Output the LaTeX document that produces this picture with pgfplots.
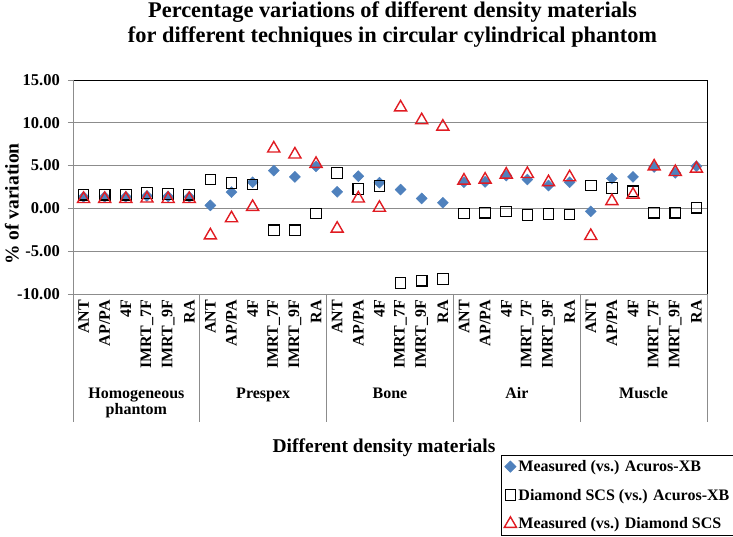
\documentclass[border=0pt]{standalone}
\usepackage{fontspec}
\setmainfont{Liberation Serif}
\usepackage{pgfplots}
\pgfplotsset{compat=1.18}
\definecolor{xbblue}{HTML}{4F81BD}
\definecolor{gridgray}{HTML}{8C8C8C}
\definecolor{trired}{HTML}{E01B22}
\begin{document}
\begin{tikzpicture}
\useasboundingbox (0pt,0pt) rectangle (733pt,537pt);
\node[font=\bfseries\fontsize{22.4}{25}\selectfont, anchor=base] at (392.5pt,519.7pt) {Percentage variations of different density materials};
\node[font=\bfseries\fontsize{22.4}{25}\selectfont, anchor=base] at (392.5pt,494.3pt) {for different techniques in circular cylindrical phantom};
\node[font=\bfseries\fontsize{19.5}{20}\selectfont, rotate=90, anchor=center] at (12pt,333pt) {\% of variation};
\node[font=\bfseries\fontsize{19.5}{20}\selectfont, anchor=base] at (384pt,84pt) {Different density materials};
\begin{axis}[
  at={(73pt,457pt)}, anchor=north west,
  width=634pt, height=214pt, scale only axis,
  xmin=-0.5, xmax=29.5, ymin=-10, ymax=15,
  clip=false,
  axis line style={draw=none},
  xtick={0,...,29},
  xticklabels={ANT,AP/PA,4F,IMRT\_7F,IMRT\_9F,RA,ANT,AP/PA,4F,IMRT\_7F,IMRT\_9F,RA,ANT,AP/PA,4F,IMRT\_7F,IMRT\_9F,RA,ANT,AP/PA,4F,IMRT\_7F,IMRT\_9F,RA,ANT,AP/PA,4F,IMRT\_7F,IMRT\_9F,RA},
  xtick style={draw=none},
  x tick label style={rotate=90, anchor=east, inner sep=1pt, font=\bfseries\fontsize{16}{16}\selectfont},
  ytick={-10,-5,0,5,10,15},
  yticklabels={{-10.00},{-5.00},{0.00},{5.00},{10.00},{15.00}},
  ytick pos=left,
  ytick style={gridgray, line width=0.9pt},
  tick align=outside,
  major tick length=5pt,
  y tick label style={font=\bfseries\fontsize{16.5}{17}\selectfont, inner sep=0pt, xshift=-8pt},
  ymajorgrids,
  grid style={gridgray, line width=0.9pt},
  legend style={at={(0.675,-0.752)}, anchor=north west, draw=black, line width=0.8pt,
    font=\bfseries\fontsize{16}{18}\selectfont, row sep=12pt, inner sep=3pt},
  legend cell align=left,
  legend image code/.code={\draw[#1] plot coordinates {(4pt,0pt)};},
]
\addplot[only marks, mark=square*, mark size=3.9pt, mark options={rotate=45, fill=xbblue, draw=xbblue}]
coordinates {
(0,1.35)(1,1.35)(2,1.35)(3,1.45)(4,1.40)(5,1.35)
(6,0.35)(7,1.9)(8,3.06)(9,4.42)(10,3.68)(11,4.92)
(12,1.94)(13,3.76)(14,3.0)(15,2.2)(16,1.16)(17,0.66)
(18,3.06)(19,3.1)(20,3.84)(21,3.37)(22,2.67)(23,3.06)
(24,-0.35)(25,3.49)(26,3.68)(27,4.84)(28,4.15)(29,4.92)
};
\addlegendentry{Measured (vs.) Acuros-XB}
\addplot[only marks, mark=square, mark size=5.3pt, mark options={draw=black, line width=1.1pt}]
coordinates {
(0,1.6)(1,1.6)(2,1.6)(3,1.8)(4,1.7)(5,1.6)
(6,3.37)(7,2.95)(8,2.8)(9,-2.56)(10,-2.56)(11,-0.58)
(12,4.15)(13,2.29)(14,2.6)(15,-8.72)(16,-8.45)(17,-8.26)
(18,-0.58)(19,-0.5)(20,-0.38)(21,-0.78)(22,-0.66)(23,-0.73)
(24,2.67)(25,2.4)(26,2.0)(27,-0.5)(28,-0.5)(29,0.08)
};
\addlegendentry{Diamond SCS (vs.) Acuros-XB}
\addplot[only marks, mark=triangle, mark size=7pt, mark options={draw=trired, line width=1.4pt}]
coordinates {
(0,1.1)(1,1.1)(2,1.1)(3,1.15)(4,1.1)(5,1.1)
(6,-3.15)(7,-1.15)(8,0.17)(9,7.0)(10,6.3)(11,5.2)
(12,-2.37)(13,1.16)(14,0.07)(15,11.8)(16,10.3)(17,9.55)
(18,3.25)(19,3.36)(20,3.95)(21,4.02)(22,3.06)(23,3.64)
(24,-3.22)(25,0.85)(26,1.6)(27,4.9)(28,4.25)(29,4.64)
};
\addlegendentry{Measured (vs.) Diamond SCS}
\draw[black, line width=0.9pt] (rel axis cs:0,1) -- (rel axis cs:1,1) -- (rel axis cs:1,0);
\draw[gridgray, line width=0.9pt] (rel axis cs:0,1) -- (rel axis cs:0,0) -- (rel axis cs:1,0);
\pgfplotsinvokeforeach{-0.5,5.5,11.5,17.5,23.5,29.5}{
  \draw[gridgray, line width=0.9pt] (axis cs:#1,-10) -- ++(0pt,-128pt);
}
\node[font=\bfseries\fontsize{16}{16}\selectfont, anchor=base] at ([yshift=-105pt]axis cs:2.5,-10) {Homogeneous};
\node[font=\bfseries\fontsize{16}{16}\selectfont, anchor=base] at ([yshift=-121pt]axis cs:2.5,-10) {phantom};
\node[font=\bfseries\fontsize{16}{16}\selectfont, anchor=base] at ([yshift=-105pt]axis cs:8.5,-10) {Prespex};
\node[font=\bfseries\fontsize{16}{16}\selectfont, anchor=base] at ([yshift=-105pt]axis cs:14.5,-10) {Bone};
\node[font=\bfseries\fontsize{16}{16}\selectfont, anchor=base] at ([yshift=-105pt]axis cs:20.5,-10) {Air};
\node[font=\bfseries\fontsize{16}{16}\selectfont, anchor=base] at ([yshift=-105pt]axis cs:26.5,-10) {Muscle};
\end{axis}
\end{tikzpicture}
\end{document}
